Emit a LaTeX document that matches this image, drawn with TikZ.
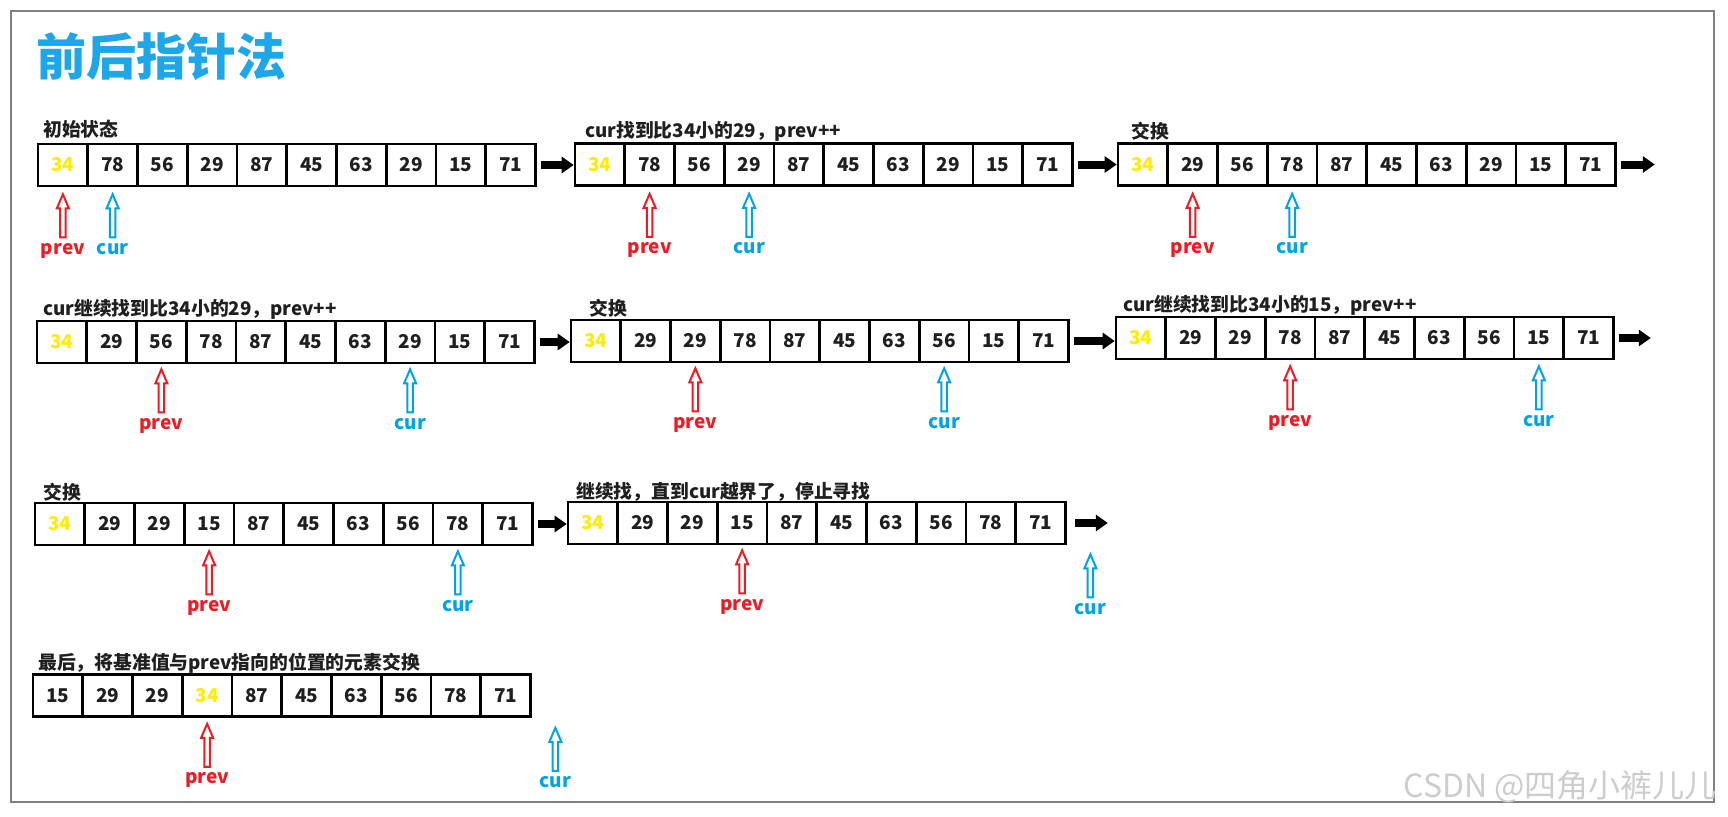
\documentclass[tikz,border=0pt]{standalone}
\usepackage{fontspec}
\setmainfont{Noto Sans CJK SC}
\usetikzlibrary{arrows.meta,calc}
\definecolor{ptred}{RGB}{237,28,36}
\definecolor{ptblue}{RGB}{0,162,232}
\definecolor{ttblue}{RGB}{29,166,232}
\definecolor{ptyellow}{RGB}{255,236,0}
\definecolor{framegray}{RGB}{128,128,128}
\definecolor{wmgray}{RGB}{205,205,205}
\newcommand\Y[1]{\textcolor{ptyellow}{#1}}
\tikzset{
  cell/.style={draw=black, line width=2.6pt, minimum width=49.75pt, minimum height=42pt,
    inner sep=0pt, font=\fontsize{19}{19}\selectfont\bfseries, text=black!88},
  steplabel/.style={anchor=west, inner sep=0pt, font=\fontsize{18.8}{18.8}\selectfont\bfseries, text=black!88},
  bigarrow/.style={line width=8pt, black, -{Triangle[length=12pt,width=16pt]}},
  ptrlabel/.style={inner sep=0pt, anchor=mid, font=\fontsize{19}{19}\selectfont\bfseries},
  ptrarrow/.pic={\draw[line width=2pt, #1, line join=miter]
     (0,0) -- (6,14) -- (2.8,14) -- (2.8,43) -- (-2.8,43) -- (-2.8,14) -- (-6,14) -- cycle;},
}
% #1 array name, #2 left x, #3 centre y, #4 values
\newcommand\cellrow[4]{%
  \foreach \v [count=\i] in {#4} {
    \node[cell] (#1-\i) at ({#2+49.75*\i-24.875}, #3) {\v};
  }}
% #1 name, #2 coordinate of tip, #3 colour, #4 label
\newcommand\ptrmark[4]{%
  \path #2 coordinate (#1);
  \pic at (#1) {ptrarrow=#3};
  \node[ptrlabel, text=#3] (#1-l) at ($(#1)+(0,57)$) {#4};}
\begin{document}
\begin{tikzpicture}[x=1pt, y=-1pt]
\useasboundingbox (0,0) rectangle (1728,816);
\fill[white] (0,0) rectangle (1728,816);
\draw[framegray, line width=2pt] (11,11) rectangle (1714,802);

\node[anchor=west, inner sep=0pt, text=ttblue, font=\fontsize{50}{50}\selectfont\bfseries] (title) at (36,57) {前后指针法};

% ---------- row 1
\cellrow{A1}{38}{165}{\Y{34},78,56,29,87,45,63,29,15,71}
\cellrow{A2}{575}{164.5}{\Y{34},78,56,29,87,45,63,29,15,71}
\cellrow{A3}{1118}{164.5}{\Y{34},29,56,78,87,45,63,29,15,71}
\node[steplabel] (L1) at (43,129) {初始状态};
\node[steplabel] (L2) at (585,131) {cur找到比34小的29，prev++};
\node[steplabel] (L3) at (1131,131) {交换};
\draw[bigarrow] ($(A1-10.east)+(4,0)$) -- (A1-10.east -| A2-1.west);
\draw[bigarrow] ($(A2-10.east)+(4,0)$) -- (A2-10.east -| A3-1.west);
\draw[bigarrow] ($(A3-10.east)+(4,0)$) coordinate (o3) -- ($(o3)+(34,0)$) coordinate (e3);
\ptrmark{P1}{($(A1-1.south)+(0,7)$)}{ptred}{prev}
\ptrmark{C1}{($(A1-2.south)+(0,7)$)}{ptblue}{cur}
\ptrmark{P2}{($(A2-2.south)+(0,7)$)}{ptred}{prev}
\ptrmark{C2}{($(A2-4.south)+(0,7)$)}{ptblue}{cur}
\ptrmark{P3}{($(A3-2.south)+(0,7)$)}{ptred}{prev}
\ptrmark{C3}{($(A3-4.south)+(0,7)$)}{ptblue}{cur}

% ---------- row 2
\cellrow{A4}{37}{342}{\Y{34},29,56,78,87,45,63,29,15,71}
\cellrow{A5}{571}{341}{\Y{34},29,29,78,87,45,63,56,15,71}
\cellrow{A6}{1116}{338}{\Y{34},29,29,78,87,45,63,56,15,71}
\node[steplabel] (L4) at (43,309) {cur继续找到比34小的29，prev++};
\node[steplabel] (L5) at (589,308) {交换};
\node[steplabel] (L6) at (1123,305) {cur继续找到比34小的15，prev++};
\draw[bigarrow] ($(A4-10.east)+(4,0)$) -- (A4-10.east -| A5-1.west);
\draw[bigarrow] ($(A5-10.east)+(4,0)$) -- (A5-10.east -| A6-1.west);
\draw[bigarrow] ($(A6-10.east)+(4,0)$) coordinate (o6) -- ($(o6)+(32,0)$) coordinate (e6);
\ptrmark{P4}{($(A4-3.south)+(0,5)$)}{ptred}{prev}
\ptrmark{C4}{($(A4-8.south)+(0,5)$)}{ptblue}{cur}
\ptrmark{P5}{($(A5-3.south)+(0,5)$)}{ptred}{prev}
\ptrmark{C5}{($(A5-8.south)+(0,5)$)}{ptblue}{cur}
\ptrmark{P6}{($(A6-4.south)+(0,6)$)}{ptred}{prev}
\ptrmark{C6}{($(A6-9.south)+(0,6)$)}{ptblue}{cur}

% ---------- row 3
\cellrow{A7}{35}{524}{\Y{34},29,29,15,87,45,63,56,78,71}
\cellrow{A8}{568}{523}{\Y{34},29,29,15,87,45,63,56,78,71}
\node[steplabel] (L7) at (43,492) {交换};
\node[steplabel] (L8) at (576,492) {继续找，直到cur越界了，停止寻找};
\draw[bigarrow] ($(A7-10.east)+(4,0)$) -- (A7-10.east -| A8-1.west);
\draw[bigarrow] ($(A8-10.east)+(8,0)$) coordinate (o8) -- ($(o8)+(33,0)$) coordinate (e8);
\ptrmark{P7}{($(A7-4.south)+(0,5)$)}{ptred}{prev}
\ptrmark{C7}{($(A7-9.south)+(0,5)$)}{ptblue}{cur}
\ptrmark{P8}{($(A8-4.south)+(0,5)$)}{ptred}{prev}
\ptrmark{C8}{($(A8-10.south)+(49.75,9)$)}{ptblue}{cur}

% ---------- row 4
\cellrow{A9}{33}{695.5}{15,29,29,\Y{34},87,45,63,56,78,71}
\node[steplabel] (L9) at (38,663) {最后，将基准值与prev指向的位置的元素交换};
\ptrmark{P9}{($(A9-4.south)+(0,6)$)}{ptred}{prev}
\ptrmark{C9}{($(A9-10.south)+(49.75,10)$)}{ptblue}{cur}

% watermark
\node[anchor=base east, inner sep=0pt, text=wmgray, font=\fontsize{32}{32}\selectfont] (wm) at (1717,797) {CSDN @四角小裤儿儿};
\end{tikzpicture}
\end{document}
